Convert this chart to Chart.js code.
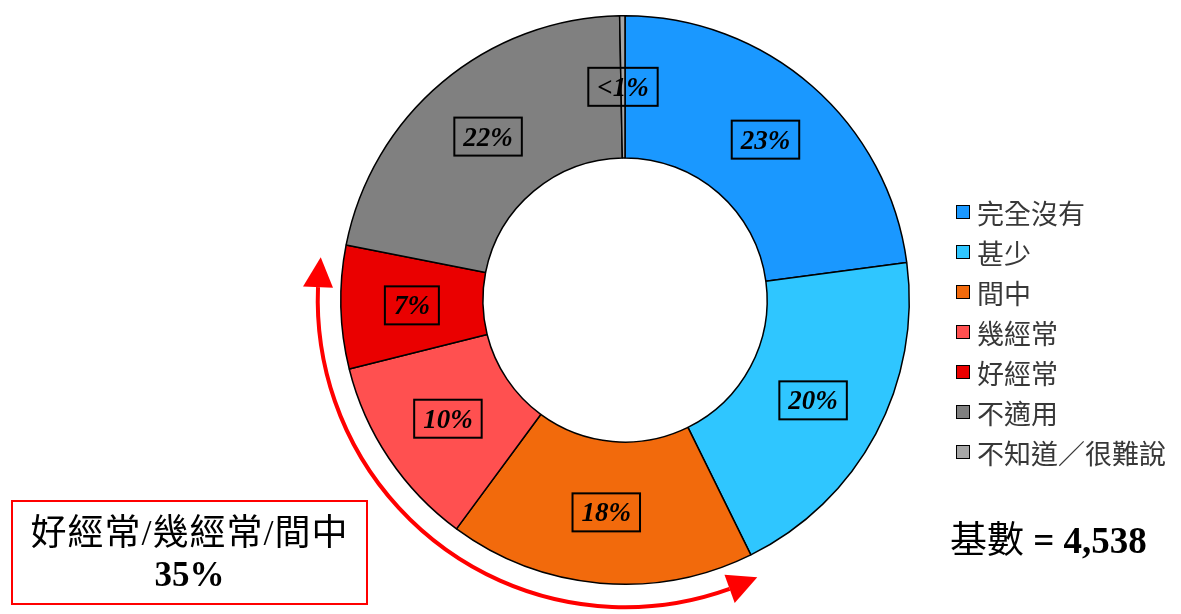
<!DOCTYPE html>
<html>
<head>
<meta charset="utf-8">
<script src="https://cdn.jsdelivr.net/npm/chart.js@4"></script>
<style>
  html, body { margin: 0; padding: 0; background: #fff; }
  #wrap { position: relative; width: 1181px; height: 614px; overflow: hidden; }
  #c { position: absolute; left: 0; top: 0; }
  #legend { position: absolute; left: 956px; top: 192px; font-family: "Noto Sans CJK TC", sans-serif; font-size: 27px; color: #383838; }
  .row { height: 40px; display: flex; align-items: center; }
  .sw { width: 12px; height: 12px; border: 1.5px solid #000; margin-right: 7px; }
  #base { position: absolute; left: 950px; top: 510px; font-size: 37px; color: #000; white-space: nowrap; }
  #base .cjk { font-family: "Noto Sans CJK TC", sans-serif; }
  #base .num { font-family: "Liberation Serif", serif; font-weight: bold; }
  #box { position: absolute; left: 11px; top: 500px; width: 353px; height: 101px; border: 2px solid #f00; text-align: center; font-family: "Liberation Serif", "Noto Sans CJK TC", serif; color: #000; }
  #box .l1 { font-size: 36px; line-height: 44px; margin-top: 9px; letter-spacing: 1px; }
  #box .l2 { font-size: 35px; font-weight: bold; line-height: 40px; }
</style>
</head>
<body>
<div id="wrap">
  <canvas id="c" width="1181" height="614"></canvas>
  <div id="legend"></div>
  <div id="base"><span class="cjk">基數</span><span class="num"> = 4,538</span></div>
  <div id="box"><div class="l1">好經常/幾經常/間中</div><div class="l2">35%</div></div>
</div>
<script>
const categories = ['完全沒有', '甚少', '間中', '幾經常', '好經常', '不適用', '不知道／很難說'];
const values = [22.9, 19.8, 17.4, 11.0, 7.0, 21.6, 0.3];
const labelTexts = ['23%', '20%', '18%', '10%', '7%', '22%', '<1%'];
const colors = ['#1a98ff', '#2fc6ff', '#f26a0c', '#ff5050', '#ea0000', '#808080', '#a6a6a6'];

// HTML legend from arrays
const legendEl = document.getElementById('legend');
categories.forEach((c, i) => {
  const row = document.createElement('div');
  row.className = 'row';
  const sw = document.createElement('div');
  sw.className = 'sw';
  sw.style.background = colors[i];
  const t = document.createElement('span');
  t.textContent = c;
  row.appendChild(sw); row.appendChild(t);
  legendEl.appendChild(row);
});

const labelPlugin = {
  id: 'boxLabels',
  afterDatasetsDraw(chart) {
    const ctx = chart.ctx;
    const meta = chart.getDatasetMeta(0);
    ctx.save();
    ctx.font = 'italic bold 27px "Liberation Serif", serif';
    ctx.textAlign = 'center';
    ctx.textBaseline = 'middle';
    meta.data.forEach((arc, i) => {
      const p = arc.tooltipPosition();
      const txt = labelTexts[i];
      const w = ctx.measureText(txt).width + 18;
      const h = 38;
      ctx.lineWidth = 2;
      ctx.strokeStyle = '#000';
      ctx.strokeRect(p.x - w / 2, p.y - h / 2, w, h);
      ctx.fillStyle = '#000';
      ctx.fillText(txt, p.x, p.y + 2);
    });
    ctx.restore();
  }
};

const arrowPlugin = {
  id: 'arcArrow',
  afterDraw(chart) {
    const ctx = chart.ctx;
    const arc = chart.getDatasetMeta(0).data[0];
    const cx = arc.x, cy = arc.y;
    const R = arc.outerRadius + 23;
    const deg = Math.PI / 180;
    const a0 = 188 * deg;   // left tip
    const a1 = 64.5 * deg;  // right tip
    const headLen = 30, headW = 15;
    const da = headLen / R;
    ctx.save();
    ctx.strokeStyle = '#ff0000';
    ctx.fillStyle = '#ff0000';
    ctx.lineWidth = 4;
    ctx.beginPath();
    ctx.arc(cx, cy, R, a0 - da, a1 + da, true);
    ctx.stroke();
    function head(aTip, aBase) {
      const tx = cx + R * Math.cos(aTip), ty = cy + R * Math.sin(aTip);
      const bx = cx + R * Math.cos(aBase), by = cy + R * Math.sin(aBase);
      const nx = Math.cos(aBase), ny = Math.sin(aBase);
      ctx.beginPath();
      ctx.moveTo(tx, ty);
      ctx.lineTo(bx + nx * headW, by + ny * headW);
      ctx.lineTo(bx - nx * headW, by - ny * headW);
      ctx.closePath();
      ctx.fill();
    }
    head(a0, a0 - da);
    head(a1, a1 + da);
    ctx.restore();
  }
};

new Chart(document.getElementById('c'), {
  type: 'doughnut',
  data: {
    labels: categories,
    datasets: [{
      data: values,
      backgroundColor: colors,
      borderColor: '#000',
      borderWidth: 1.5,
      hoverOffset: 0,
      borderAlign: 'center'
    }]
  },
  options: {
    responsive: false,
    animation: false,
    cutout: '50%',
    layout: { padding: { left: 340, right: 271, top: 15, bottom: 29 } },
    plugins: { legend: { display: false }, tooltip: { enabled: false } }
  },
  plugins: [labelPlugin, arrowPlugin]
});
</script>
</body>
</html>
